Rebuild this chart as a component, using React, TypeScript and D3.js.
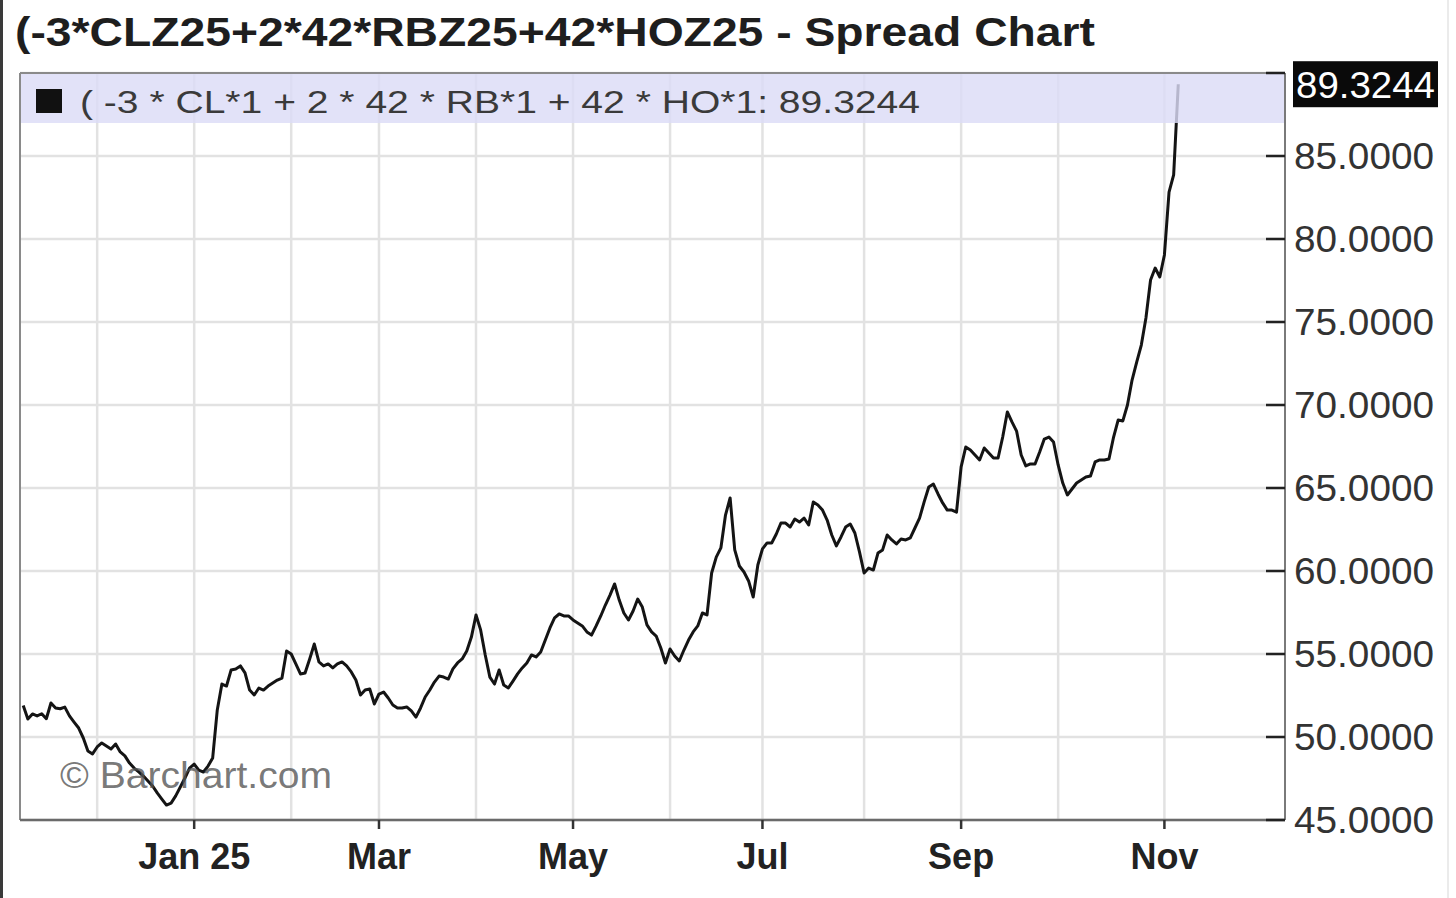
import React from "react";
import * as d3 from "d3";

const startDate = "2024-11-07";
const endDate = "2025-11-06";
const holidays = [
  "2024-11-28", "2024-12-25", "2025-01-01", "2025-01-20", "2025-02-17",
  "2025-04-18", "2025-05-26", "2025-06-19", "2025-07-04", "2025-09-01",
];

// one value per trading day
const values = [
  51.9, 51.08, 51.39, 51.27, 51.4, 51.1, 52.05, 51.75, 51.7, 51.8,
  51.27, 50.9, 50.54, 49.94, 49.16, 48.98, 49.4, 49.64, 49.46, 49.28,
  49.58, 49.1, 48.86, 48.43, 48.13, 47.9, 47.65, 47.35, 47.05, 46.63,
  46.26, 45.9, 46.02, 46.45, 46.99, 47.53, 48.13, 48.37, 48.0, 47.89,
  48.25, 48.73, 51.63, 53.19, 53.07, 54.04, 54.1, 54.28, 53.86, 52.83,
  52.53, 52.95, 52.83, 53.07, 53.25, 53.43, 53.55, 55.18, 55.0, 54.4,
  53.8, 53.86, 54.7, 55.6, 54.52, 54.28, 54.4, 54.16, 54.4, 54.52,
  54.28, 53.92, 53.43, 52.53, 52.83, 52.89, 51.99, 52.59, 52.71, 52.35,
  51.93, 51.75, 51.75, 51.81, 51.57, 51.2, 51.75, 52.41, 52.83, 53.31,
  53.67, 53.61, 53.49, 54.1, 54.46, 54.7, 55.18, 56.02, 57.35, 56.45,
  54.94, 53.61, 53.19, 54.04, 53.13, 52.95, 53.37, 53.8, 54.16, 54.46,
  54.94, 54.82, 55.12, 55.84, 56.57, 57.17, 57.41, 57.29, 57.29, 57.05,
  56.87, 56.69, 56.33, 56.14, 56.69, 57.29, 57.95, 58.55, 59.22, 58.25,
  57.47, 57.05, 57.59, 58.31, 57.83, 56.75, 56.33, 56.08, 55.36, 54.46,
  55.3, 54.88, 54.58, 55.24, 55.84, 56.33, 56.69, 57.47, 57.35, 59.88,
  60.84, 61.39, 63.37, 64.4, 61.27, 60.3, 59.94, 59.4, 58.43, 60.36,
  61.33, 61.69, 61.69, 62.23, 62.89, 62.89, 62.65, 63.13, 62.95, 63.19,
  62.77, 64.16, 63.97, 63.67, 63.07, 62.17, 61.51, 62.05, 62.65, 62.83,
  62.29, 61.15, 59.88, 60.18, 60.06, 61.08, 61.27, 62.17, 61.87, 61.63,
  61.93, 61.87, 61.99, 62.59, 63.19, 64.16, 65.06, 65.24, 64.64, 64.1,
  63.67, 63.67, 63.55, 66.27, 67.47, 67.29, 66.99, 66.69, 67.41, 67.11,
  66.81, 66.81, 68.07, 69.58, 68.98, 68.43, 66.99, 66.33, 66.45, 66.45,
  67.17, 67.95, 68.07, 67.77, 66.39, 65.3, 64.58, 64.94, 65.3, 65.48,
  65.66, 65.72, 66.57, 66.69, 66.69, 66.75, 68.07, 69.1, 69.04, 70.0,
  71.5, 72.59, 73.61, 75.24, 77.53, 78.25, 77.71, 79.04, 82.83, 83.86,
  89.3244,
];

const yTicks = [45, 50, 55, 60, 65, 70, 75, 80, 85, 90];
const labeledMonths = [0, 2, 4, 6, 8, 10]; // Jan, Mar, May, Jul, Sep, Nov
const lastValue = 89.3244;
const titleText = "(-3*CLZ25+2*42*RBZ25+42*HOZ25 - Spread Chart";
const legendText = "( -3 * CL*1 + 2 * 42 * RB*1 + 42 * HO*1: 89.3244";
const watermark = "© Barchart.com";

function tradingDays(): Date[] {
  const out: Date[] = [];
  const hol = new Set(holidays);
  const d = new Date(startDate + "T00:00:00Z");
  const end = new Date(endDate + "T00:00:00Z");
  while (d <= end) {
    const wd = d.getUTCDay();
    const key = d.toISOString().slice(0, 10);
    if (wd !== 0 && wd !== 6 && !hol.has(key)) out.push(new Date(d));
    d.setUTCDate(d.getUTCDate() + 1);
  }
  return out;
}

export default function App() {
  const W = 1456, H = 898;
  const left = 20, right = 1285, top = 73, bottom = 820;
  const days = tradingDays();
  const x = d3.scaleLinear().domain([-0.7, days.length + 22.1]).range([left, right]);
  const y = d3.scaleLinear().domain([45, 90]).range([bottom, top]);

  const monthStarts: { i: number; m: number; yr: number }[] = [];
  days.forEach((d, i) => {
    if (i === 0) return;
    if (d.getUTCMonth() !== days[i - 1].getUTCMonth()) {
      monthStarts.push({ i, m: d.getUTCMonth(), yr: d.getUTCFullYear() });
    }
  });
  const monthFmt = d3.utcFormat("%b");

  const line = d3
    .line<number>()
    .x((_, i) => x(i))
    .y((d) => y(d));

  const font = "'Liberation Sans', Arial, sans-serif";

  return (
    <svg
      width={W}
      height={H}
      style={{ position: "absolute", left: 0, top: 0, background: "#fff", fontFamily: font }}
    >
      <rect x={0} y={0} width={W} height={H} fill="#fff" />
      <rect x={0} y={0} width={3} height={H} fill="#3a3a3a" />
      <line x1={1448} x2={1448} y1={0} y2={H} stroke="#e4e4e4" strokeWidth={1.5} />

      <text
        x={15}
        y={46}
        fontSize={41}
        fontWeight="bold"
        fill="#1e1e1e"
        textLength={1080}
        lengthAdjust="spacingAndGlyphs"
      >
        {titleText}
      </text>

      {/* grid */}
      {yTicks.map((t) => (
        <line key={"hy" + t} x1={left} x2={right} y1={y(t)} y2={y(t)} stroke="#e2e2e2" strokeWidth={2.5} />
      ))}
      {monthStarts.map((ms) => (
        <line key={"vx" + ms.i} x1={x(ms.i)} x2={x(ms.i)} y1={top} y2={bottom} stroke="#e2e2e2" strokeWidth={2.5} />
      ))}

      {/* data line */}
      <path d={line(values) || ""} fill="none" stroke="#141414" strokeWidth={3} strokeLinejoin="round" />

      {/* watermark */}
      <text
        x={60}
        y={788}
        fontSize={36}
        fill="#555"
        fillOpacity={0.8}
        textLength={272}
        lengthAdjust="spacingAndGlyphs"
      >
        {watermark}
      </text>

      {/* legend band */}
      <rect x={left} y={top} width={right - left} height={50} fill="#dcdcf6" fillOpacity={0.82} />
      <rect x={36} y={89} width={26} height={24} fill="#111" />
      <text
        x={80}
        y={113}
        fontSize={32}
        fill="#3a3a3a"
        textLength={840}
        lengthAdjust="spacingAndGlyphs"
      >
        {legendText}
      </text>

      {/* frame */}
      <line x1={left} x2={right} y1={top} y2={top} stroke="#8a8a8a" strokeWidth={2} />
      <line x1={left} x2={left} y1={top} y2={bottom} stroke="#8a8a8a" strokeWidth={2} />
      <line x1={left} x2={right} y1={bottom} y2={bottom} stroke="#6a6a6a" strokeWidth={2.5} />
      <line x1={right} x2={right} y1={top} y2={bottom} stroke="#7a7a7a" strokeWidth={2} />

      {/* y axis */}
      {yTicks.map((t) => (
        <line key={"yt" + t} x1={right - 19} x2={right} y1={y(t)} y2={y(t)} stroke="#222" strokeWidth={2.5} />
      ))}
      {yTicks
        .filter((t) => t < 90)
        .map((t) => (
          <text
            key={"yl" + t}
            x={1294}
            y={y(t)}
            dy="0.36em"
            fontSize={37}
            fill="#333"
            textLength={140}
            lengthAdjust="spacingAndGlyphs"
          >
            {t.toFixed(4)}
          </text>
        ))}
      <rect x={1293} y={y(lastValue) - 23} width={145} height={46} fill="#0a0a0a" />
      <text
        x={1296}
        y={y(lastValue)}
        dy="0.36em"
        fontSize={37}
        fill="#fff"
        textLength={139}
        lengthAdjust="spacingAndGlyphs"
      >
        {lastValue.toFixed(4)}
      </text>

      {/* x axis */}
      {monthStarts
        .filter((ms) => labeledMonths.includes(ms.m))
        .map((ms) => (
          <g key={"xl" + ms.i}>
            <line x1={x(ms.i)} x2={x(ms.i)} y1={bottom} y2={bottom + 9} stroke="#333" strokeWidth={2.5} />
            <text
              x={x(ms.i)}
              y={869}
              textAnchor="middle"
              fontSize={36}
              fontWeight="bold"
              fill="#222"
            >
              {ms.m === 0 ? `${monthFmt(days[ms.i])} ${String(ms.yr).slice(2)}` : monthFmt(days[ms.i])}
            </text>
          </g>
        ))}
    </svg>
  );
}
